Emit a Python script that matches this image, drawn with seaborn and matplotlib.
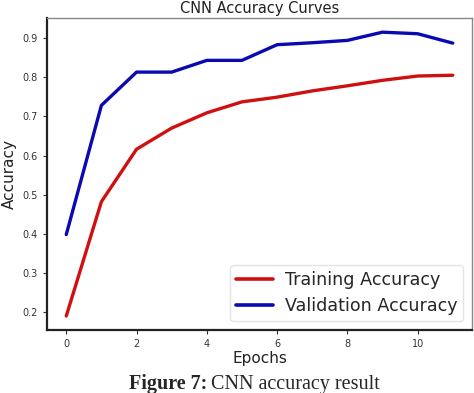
import pandas as pd
import matplotlib
matplotlib.use('Agg')
import matplotlib.pyplot as plt
import seaborn as sns

# values
epochs = list(range(12))
train_acc = [0.190, 0.482, 0.616, 0.670, 0.709, 0.737, 0.749, 0.765, 0.778, 0.792, 0.803, 0.805]
val_acc = [0.398, 0.728, 0.813, 0.813, 0.843, 0.843, 0.883, 0.888, 0.894, 0.915, 0.911, 0.887]
series_names = ['Training Accuracy', 'Validation Accuracy']

df = pd.DataFrame({
    'Epochs': epochs * 2,
    'Accuracy': train_acc + val_acc,
    'series': [series_names[0]] * len(epochs) + [series_names[1]] * len(epochs),
})

sns.set_style('ticks')
plt.rcParams['font.family'] = ['DejaVu Sans']

fig = plt.figure(figsize=(4.74, 3.93), dpi=100)
ax = fig.add_axes([0.099, 0.160, 0.897, 0.794])

sns.lineplot(data=df, x='Epochs', y='Accuracy', hue='series',
             palette={series_names[0]: '#d01010', series_names[1]: '#0a0ab0'},
             linewidth=2.4, ax=ax)

ax.set_title('CNN Accuracy Curves', fontsize=10.5, pad=4, color='#222222')
ax.set_xlabel('Epochs', fontsize=11, labelpad=1, color='#222222')
ax.set_ylabel('Accuracy', fontsize=11, labelpad=4, color='#222222')
ax.set_xticks([0, 2, 4, 6, 8, 10])
ax.set_yticks([0.2, 0.3, 0.4, 0.5, 0.6, 0.7, 0.8, 0.9])
ax.set_xlim(-0.55, 11.55)
ax.set_ylim(0.154, 0.951)
ax.tick_params(labelsize=7, length=3, width=0.8, colors='#333333')

for side in ['left', 'bottom']:
    ax.spines[side].set_color('#222222')
    ax.spines[side].set_linewidth(1.6)
for side in ['top', 'right']:
    ax.spines[side].set_visible(True)
    ax.spines[side].set_color('#888888')
    ax.spines[side].set_linewidth(1.0)

leg = ax.legend(loc='lower right', fontsize=12.6, frameon=True, handlelength=2.1,
                borderpad=0.35, labelspacing=0.45, handletextpad=0.65,
                borderaxespad=0.5, fancybox=True)
leg.get_frame().set_edgecolor('#dddddd')
for line in leg.get_lines():
    line.set_linewidth(2.6)

# caption below the chart
fig.text(0.437, 0.010, 'Figure 7:', ha='right', va='baseline', fontsize=14.5,
         family='Liberation Serif', fontweight='bold')
fig.text(0.446, 0.010, 'CNN accuracy result', ha='left', va='baseline', fontsize=14.5,
         family='Liberation Serif')

fig.savefig('out.png', dpi=100)
